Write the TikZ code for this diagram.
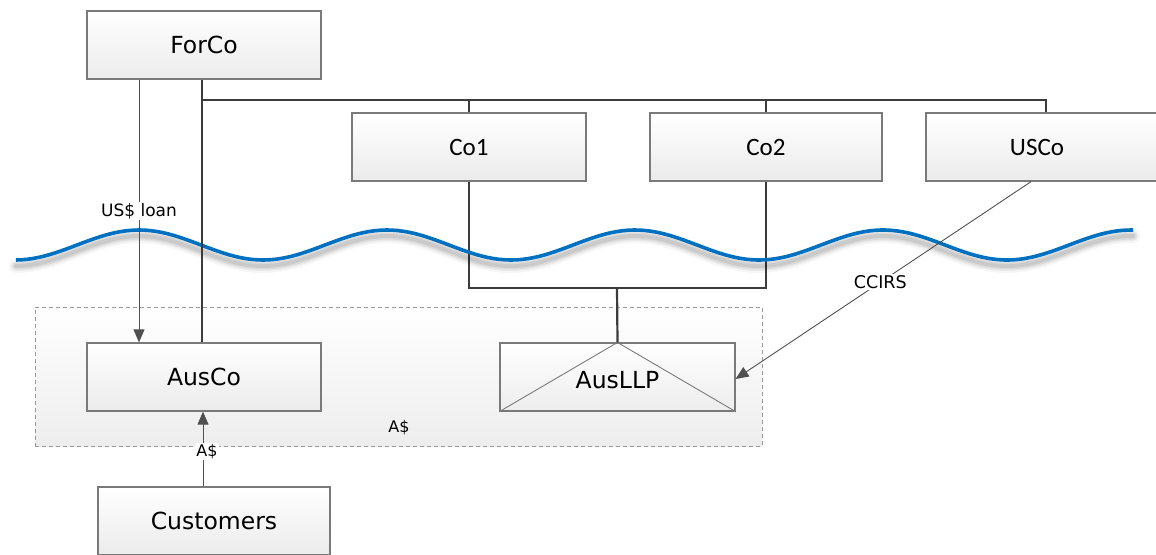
\documentclass[tikz,border=0pt]{standalone}
\usepackage{fontspec}
\setmainfont{DejaVu Sans}
\newfontfamily\calfont{Carlito}
\usetikzlibrary{arrows.meta,calc}
\definecolor{bordergray}{HTML}{7A7A7A}
\definecolor{linegray}{HTML}{3C3C3C}
\definecolor{thingray}{HTML}{505050}
\definecolor{boxbottom}{HTML}{EBEBEB}
\definecolor{regbottom}{HTML}{EDEDED}
\definecolor{waveblue}{HTML}{0070C0}
\tikzset{
  box/.style={draw=bordergray, line width=1.3pt, top color=white, bottom color=boxbottom,
    minimum height=68pt, inner sep=0pt, font=\fontsize{23.5}{26}\selectfont},
  cbox/.style={box, font=\calfont\fontsize{25}{28}\selectfont},
  region/.style={draw=gray!80, dash pattern=on 4pt off 3pt, line width=0.9pt,
    top color=white, bottom color=regbottom, inner sep=0pt},
  own/.style={draw=linegray, line width=2.2pt},
  arr/.style={draw=thingray, line width=0.9pt, -{Triangle[length=13pt,width=11pt]}},
  lbl/.style={fill=white, inner sep=1.5pt, font=\fontsize{17}{19}\selectfont},
  slbl/.style={inner sep=1pt, font=\fontsize{16}{18}\selectfont},
}
\begin{document}
\begin{tikzpicture}[x=1pt,y=-1pt]
\useasboundingbox (0,0) rectangle (1156,554);
% region
\node[region, minimum width=727pt, minimum height=139pt] (reg) at (398.5,376.5) {};
% boxes
\node[box, minimum width=234pt] (forco) at (204,45) {ForCo};
\node[cbox, minimum width=234pt] (co1) at (469,147) {Co1};
\node[cbox, minimum width=232pt] (co2) at (766,147) {Co2};
\node[cbox, minimum width=238pt] (usco) at (1045,147) {\hspace*{-16pt}USCo};
\node[box, minimum width=234pt] (ausco) at (204,377) {AusCo};
\node[box, minimum width=235pt, top color=white, bottom color=regbottom, line width=1.1pt] (ausllp) at (617.5,377) {};
\draw[bordergray, line width=0.9pt] (ausllp.south west) -- (ausllp.north) -- (ausllp.south east);
\node[font=\fontsize{23.5}{26}\selectfont] (ausllptxt) at (617.5,380) {AusLLP};
\node[box, minimum width=232pt] (cust) at (214,521) {Customers};
\node[slbl] (regl) at (399,428) {A\$};
% ownership lines below the wave
\coordinate (bus) at (202,100);
\coordinate (jn) at (617,288);
\draw[own] (co1.south) -- (co1.south |- jn) -- (co2.south |- jn) -- (co2.south);
\draw[own] (jn) -- (ausllp.north);
% wave with shadow
\foreach \w/\o in {14/0.035, 10/0.05, 7/0.06, 4/0.08}{
  \draw[black, opacity=\o, line width=\w pt, line cap=round, yshift=-6pt]
    plot[domain=16:1133, samples=200] (\x, {245-15*cos((\x-139)/248*360)});
}
\draw[waveblue, line width=3.6pt]
  plot[domain=16:1133, samples=200] (\x, {245-15*cos((\x-139)/248*360)});
% ownership lines above the wave
\draw[own] ([xshift=-2pt]forco.south) -- ([xshift=-2pt]ausco.north);
\draw[own] (bus) -- ([xshift=1pt]usco.north |- bus) -- ([xshift=1pt]usco.north);
\draw[own] (co1.north |- bus) -- (co1.north);
\draw[own] (co2.north |- bus) -- (co2.north);
% flows
\draw[arr] ([xshift=-65pt]forco.south) -- node[lbl, pos=0.5] {US\$ loan} ([xshift=-65pt]ausco.north);
\draw[arr] ([xshift=-14pt]usco.south) -- node[lbl, pos=0.51, font=\fontsize{17.5}{19}\selectfont] {CCIRS} ([yshift=-2pt]ausllp.east);
\draw[arr] ([xshift=-11pt]cust.north) -- node[lbl, pos=0.47, xshift=4pt, inner sep=1pt, font=\fontsize{16}{18}\selectfont] {A\$} ([xshift=-1pt]ausco.south);
\end{tikzpicture}
\end{document}
